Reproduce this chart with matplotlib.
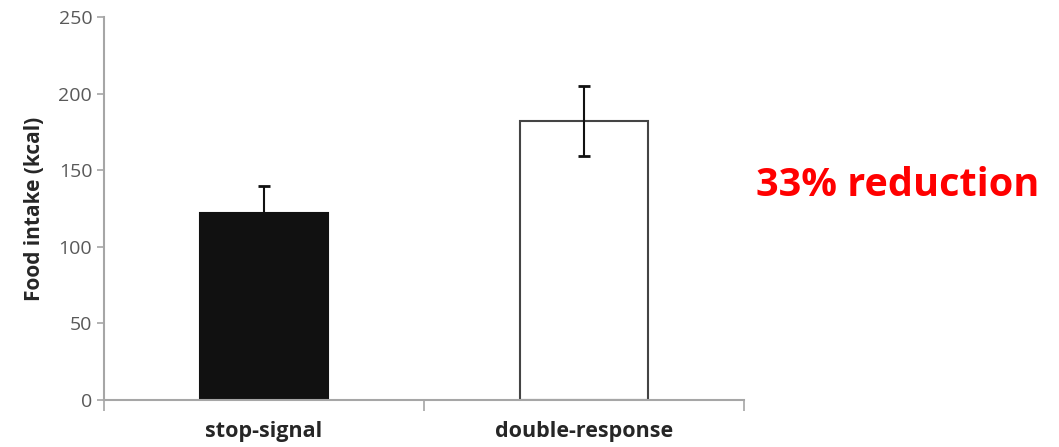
import matplotlib
matplotlib.use("Agg")
import matplotlib.pyplot as plt

categories = ["stop-signal", "double-response"]
values = [122, 182]
errors = [18, 23]
colors = ["#111111", "white"]
yticks = [0, 50, 100, 150, 200, 250]

plt.rcParams['font.family'] = ['Open Sans', 'DejaVu Sans']

fig = plt.figure(figsize=(10.59, 4.47), dpi=100)
ax = fig.add_axes([104/1059, 47/447, 640/1059, 383/447])

x = [0, 1]
ax.bar(x, values, width=0.4, color=colors, edgecolor=["#111111", "#444444"], linewidth=1.5, zorder=2)
ax.errorbar(x, values, yerr=errors, fmt='none', ecolor='#111111', elinewidth=1.5, capsize=4, capthick=2, zorder=3)

ax.set_xlim(-0.5, 1.5)
ax.set_ylim(0, 250)
ax.set_yticks(yticks)
ax.set_xticks([-0.5, 0.5, 1.5])
ax.set_xticklabels([])
for i, c in enumerate(categories):
    ax.text(x[i], -14, c, ha='center', va='top', fontsize=15.5, fontweight='bold', color='#262626')

for s in ['top', 'right']:
    ax.spines[s].set_visible(False)
for s in ['left', 'bottom']:
    ax.spines[s].set_color('#a6a6a6')
    ax.spines[s].set_linewidth(1.5)
ax.tick_params(axis='y', colors='#a6a6a6', labelcolor='#595959', labelsize=14, length=5, width=1.2)
ax.tick_params(axis='x', colors='#a6a6a6', length=8, width=1.2)
ax.set_ylabel("Food intake (kcal)", fontsize=15, fontweight='bold', color='#262626', labelpad=10)

fig.text(898/1059, 1 - 185/447, "33% reduction", ha='center', va='center', fontsize=28.5, fontweight='bold', color='#ff0000')

fig.savefig("out.png", dpi=100)
